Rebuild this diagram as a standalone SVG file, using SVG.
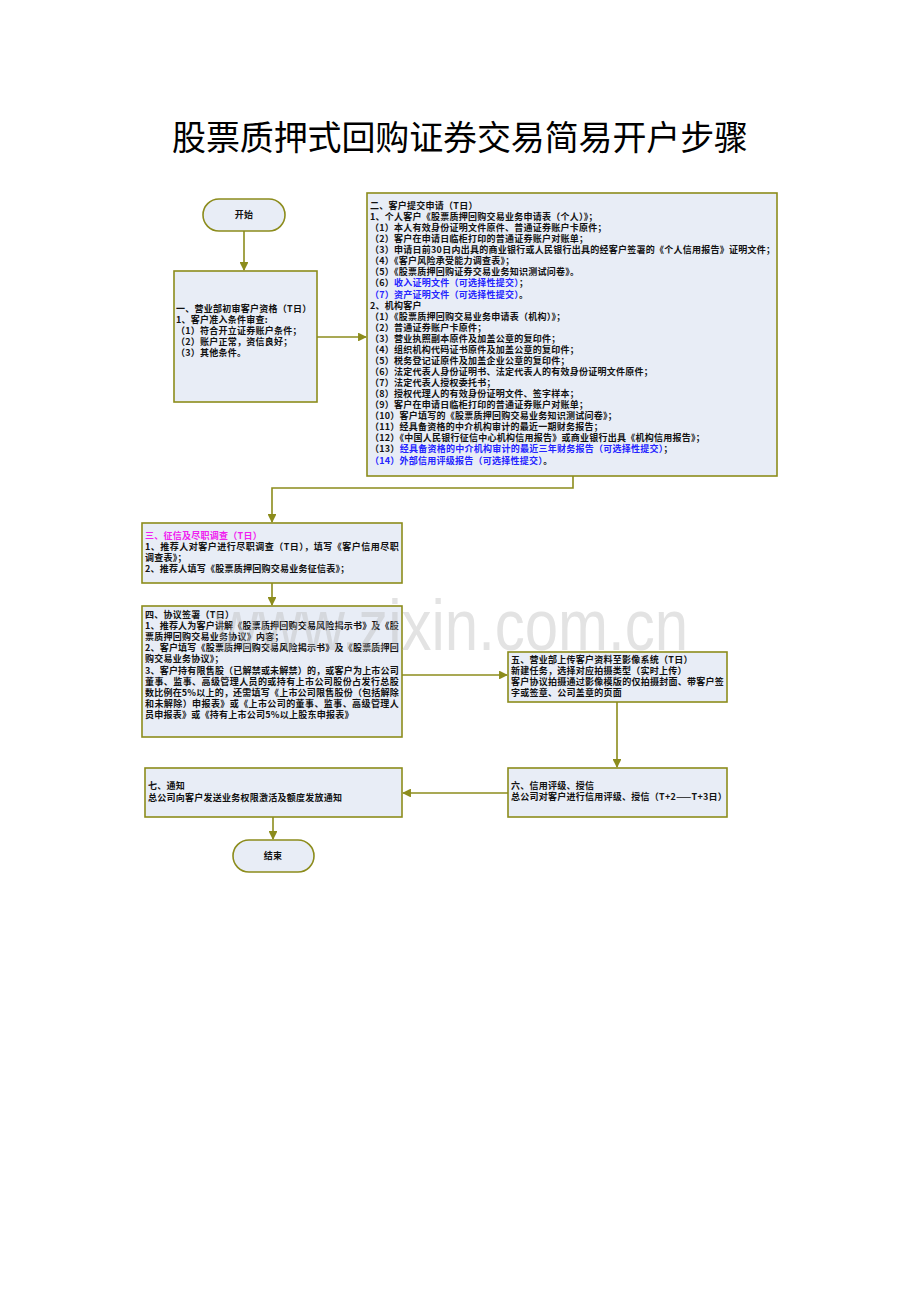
<svg xmlns="http://www.w3.org/2000/svg" width="920" height="1302" viewBox="0 0 920 1302">
<style>
.box{fill:#e8edf6;stroke:#8c8c1c;stroke-width:1.6}
.t{font-family:"Noto Sans CJK SC","Liberation Sans",sans-serif;font-size:9px;letter-spacing:0.25px;font-weight:bold;fill:#111}
.c{text-anchor:middle}
.b{fill:#2424ff}
.m{fill:#f020f0}
.ln{fill:none;stroke:#8c8c1c;stroke-width:1.6}
.title{font-family:"Noto Sans CJK SC","Liberation Sans",sans-serif;font-size:34px;fill:#000}
.wm{font-family:"Liberation Sans","DejaVu Sans",sans-serif;font-size:72px;fill:#b8b8b8;fill-opacity:0.4}
</style>
<defs>
<marker id="ah" viewBox="0 0 10 10" refX="9" refY="5" markerWidth="5.5" markerHeight="5.5" orient="auto" markerUnits="strokeWidth">
<path d="M0,0 L10,5 L0,10 z" fill="#8c8c1c"/>
</marker>
</defs>
<rect width="920" height="1302" fill="#fff"/>
<text class="title" x="172" y="150" textLength="576" lengthAdjust="spacing">股票质押式回购证券交易简易开户步骤</text>

<g id="connectors">
<line class="ln" x1="244" y1="231" x2="244" y2="270" marker-end="url(#ah)"/>
<line class="ln" x1="317" y1="337" x2="366" y2="337" marker-end="url(#ah)"/>
<polyline class="ln" points="573,476 573,488 272,488 272,522" marker-end="url(#ah)"/>
<line class="ln" x1="272" y1="583" x2="272" y2="605" marker-end="url(#ah)"/>
<line class="ln" x1="402" y1="675" x2="507" y2="675" marker-end="url(#ah)"/>
<line class="ln" x1="617" y1="702" x2="617" y2="767" marker-end="url(#ah)"/>
<line class="ln" x1="508" y1="793" x2="403" y2="793" marker-end="url(#ah)"/>
<line class="ln" x1="273" y1="817" x2="273" y2="839" marker-end="url(#ah)"/>
</g>

<g id="start">
<rect class="box" x="203" y="199" width="82" height="32" rx="16" ry="16"/>
<text class="t c" x="244" y="218">开始</text>
</g>

<g id="step1">
<rect class="box" x="174" y="271" width="143" height="131"/>
<text class="t" x="176" y="312">一、营业部初审客户资格（T日）</text>
<text class="t" x="176" y="323">1、客户准入条件审查:</text>
<text class="t" x="176" y="334">（1）符合开立证券账户条件；</text>
<text class="t" x="176" y="345">（2）账户正常，资信良好；</text>
<text class="t" x="176" y="356">（3）其他条件。</text>
</g>

<g id="step2">
<rect class="box" x="367" y="193" width="410" height="283"/>
<text class="t" x="370" y="209">二、客户提交申请（T日）</text>
<text class="t" x="370" y="220">1、个人客户《股票质押回购交易业务申请表（个人）》；</text>
<text class="t" x="370" y="231">（1）本人有效身份证明文件原件、普通证券账户卡原件；</text>
<text class="t" x="370" y="242">（2）客户在申请日临柜打印的普通证券账户对账单；</text>
<text class="t" x="370" y="253">（3）申请日前30日内出具的商业银行或人民银行出具的经客户签署的《个人信用报告》证明文件；</text>
<text class="t" x="370" y="264">（4）《客户风险承受能力调查表》；</text>
<text class="t" x="370" y="275">（5）《股票质押回购证券交易业务知识测试问卷》。</text>
<text class="t" x="370" y="286">（6）<tspan class="b">收入证明文件（可选择性提交）</tspan>；</text>
<text class="t" x="370" y="298"><tspan class="b">（7）资产证明文件（可选择性提交）</tspan>。</text>
<text class="t" x="370" y="309">2、机构客户</text>
<text class="t" x="370" y="320">（1）《股票质押回购交易业务申请表（机构）》；</text>
<text class="t" x="370" y="331">（2）普通证券账户卡原件；</text>
<text class="t" x="370" y="342">（3）营业执照副本原件及加盖公章的复印件；</text>
<text class="t" x="370" y="353">（4）组织机构代码证书原件及加盖公章的复印件；</text>
<text class="t" x="370" y="364">（5）税务登记证原件及加盖企业公章的复印件；</text>
<text class="t" x="370" y="375">（6）法定代表人身份证明书、法定代表人的有效身份证明文件原件；</text>
<text class="t" x="370" y="386">（7）法定代表人授权委托书；</text>
<text class="t" x="370" y="397">（8）授权代理人的有效身份证明文件、签字样本；</text>
<text class="t" x="370" y="408">（9）客户在申请日临柜打印的普通证券账户对账单；</text>
<text class="t" x="370" y="419">（10）客户填写的《股票质押回购交易业务知识测试问卷》；</text>
<text class="t" x="370" y="430">（11）经具备资格的中介机构审计的最近一期财务报告；</text>
<text class="t" x="370" y="441">（12）《中国人民银行征信中心机构信用报告》或商业银行出具《机构信用报告》；</text>
<text class="t" x="370" y="452">（13）<tspan class="b">经具备资格的中介机构审计的最近三年财务报告（可选择性提交）</tspan>；</text>
<text class="t" x="370" y="464"><tspan class="b">（14）外部信用评级报告（可选择性提交）</tspan>。</text>
</g>

<g id="step3">
<rect class="box" x="142" y="523" width="260" height="60"/>
<text class="t m" x="145" y="539">三、征信及尽职调查（T日）</text>
<text class="t" x="145" y="550" textLength="254" lengthAdjust="spacing">1、推荐人对客户进行尽职调查（T日），填写《客户信用尽职</text>
<text class="t" x="145" y="561">调查表》；</text>
<text class="t" x="145" y="572">2、推荐人填写《股票质押回购交易业务征信表》；</text>
</g>

<g id="step4">
<rect class="box" x="142" y="606" width="260" height="131"/>
<text class="t" x="145" y="618">四、协议签署（T日）</text>
<text class="t" x="145" y="629" textLength="254" lengthAdjust="spacing">1、推荐人为客户讲解《股票质押回购交易风险揭示书》及《股</text>
<text class="t" x="145" y="640">票质押回购交易业务协议》内容；</text>
<text class="t" x="145" y="651" textLength="254" lengthAdjust="spacing">2、客户填写《股票质押回购交易风险揭示书》及《股票质押回</text>
<text class="t" x="145" y="662">购交易业务协议》；</text>
<text class="t" x="145" y="674" textLength="254" lengthAdjust="spacing">3、客户持有限售股（已解禁或未解禁）的，或客户为上市公司</text>
<text class="t" x="145" y="685" textLength="254" lengthAdjust="spacing">董事、监事、高级管理人员的或持有上市公司股份占发行总股</text>
<text class="t" x="145" y="696" textLength="254" lengthAdjust="spacing">数比例在5%以上的，还需填写《上市公司限售股份（包括解除</text>
<text class="t" x="145" y="707" textLength="254" lengthAdjust="spacing">和未解除）申报表》或《上市公司的董事、监事、高级管理人</text>
<text class="t" x="145" y="718">员申报表》或《持有上市公司5%以上股东申报表》</text>
</g>

<g id="step5">
<rect class="box" x="508" y="652" width="219" height="50"/>
<text class="t" x="511" y="663">五、营业部上传客户资料至影像系统（T日）</text>
<text class="t" x="511" y="674">新建任务，选择对应拍摄类型（实时上传）</text>
<text class="t" x="511" y="685" textLength="213" lengthAdjust="spacing">客户协议拍摄通过影像模版的仅拍摄封面、带客户签</text>
<text class="t" x="511" y="696">字或签章、公司盖章的页面</text>
</g>

<g id="step6">
<rect class="box" x="508" y="768" width="219" height="49"/>
<text class="t" x="511" y="789">六、信用评级、授信</text>
<text class="t" x="511" y="800">总公司对客户进行信用评级、授信（T+2——T+3日）</text>
</g>

<g id="step7">
<rect class="box" x="145" y="768" width="257" height="49"/>
<text class="t" x="148" y="789">七、通知</text>
<text class="t" x="148" y="801">总公司向客户发送业务权限激活及额度发放通知</text>
</g>

<g id="end">
<rect class="box" x="233" y="840" width="81" height="32" rx="16" ry="16"/>
<text class="t c" x="273" y="859">结束</text>
</g>

<text class="wm" x="215" y="650" textLength="473" lengthAdjust="spacingAndGlyphs">www.zixin.com.cn</text>
</svg>
